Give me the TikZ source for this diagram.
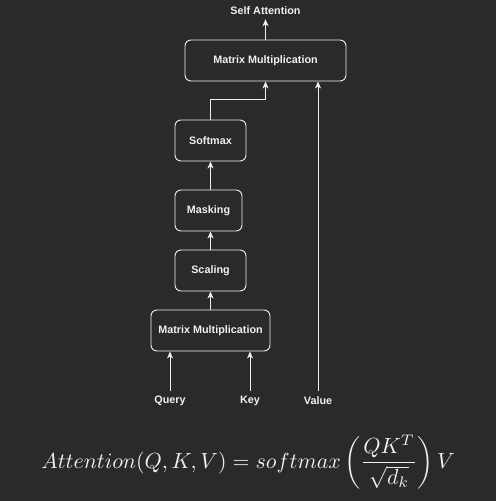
\documentclass[tikz,border=0pt]{standalone}
\usepackage{graphicx}
\usepackage{fontspec}
\setsansfont{Liberation Sans}
\usetikzlibrary{arrows.meta,calc}
\definecolor{bg}{HTML}{2A2A2A}
\definecolor{fg}{HTML}{F0F0F0}
\begin{document}
\begin{tikzpicture}[x=1pt,y=-1pt,
  box/.style={draw=fg,line width=0.9pt,rounded corners=6pt,text=fg,font=\sffamily\bfseries\fontsize{10.8}{13}\selectfont,inner sep=0pt,anchor=center},
  lbl/.style={text=fg,font=\sffamily\bfseries\fontsize{10.8}{13}\selectfont,inner sep=0pt,anchor=center},
  conn/.style={draw=fg,line width=0.9pt,-{Stealth[length=7pt,width=6pt,inset=2pt]}}]
\fill[bg] (0,0) rectangle (496,501);
\useasboundingbox (0,0) rectangle (496,501);
\node[box,minimum width=161pt,minimum height=41pt] (mm2) at (265.5,60.5) {Matrix Multiplication};
\node[box,minimum width=71pt,minimum height=41pt] (sm) at (210.5,140.5) {Softmax};
\node[box,minimum width=67pt,minimum height=41pt] (mask) at (208.5,210.5) {Masking};
\node[box,minimum width=71pt,minimum height=41pt] (sc) at (210.5,270.5) {Scaling};
\node[box,minimum width=119pt,minimum height=41pt] (mm1) at (210.5,330.5) {Matrix Multiplication};
\node[lbl,minimum height=16pt] (sa) at (265.5,11) {Self Attention};
\node[lbl,minimum height=20pt] (q) at (170,401) {Query};
\node[lbl,minimum height=20pt] (k) at (250,401) {Key};
\node[lbl,minimum height=20pt] (v) at (318,401) {Value};
\draw[conn] (q.north) -- (q.north |- mm1.south);
\draw[conn] (k.north) -- (k.north |- mm1.south);
\draw[conn] (mm1.north -| sc.south) -- (sc.south);
\draw[conn] (sc.north) -- (sc.north |- mask.south);
\draw[conn] (mask.north -| sm.south) -- (sm.south);
\draw[conn] (sm.north) -- ++(0,-20) -| (mm2.south);
\draw[conn] (v.north) -- (v.north |- mm2.south);
\draw[conn] (mm2.north) -- (sa.south);
\node[text=fg,inner sep=0pt] (eq) at (248,462) {\scalebox{2.19}{$\displaystyle Attention(Q,K,V) = softmax\left(\frac{QK^T}{\sqrt{d_k}}\right)V$}};
\end{tikzpicture}
\end{document}
